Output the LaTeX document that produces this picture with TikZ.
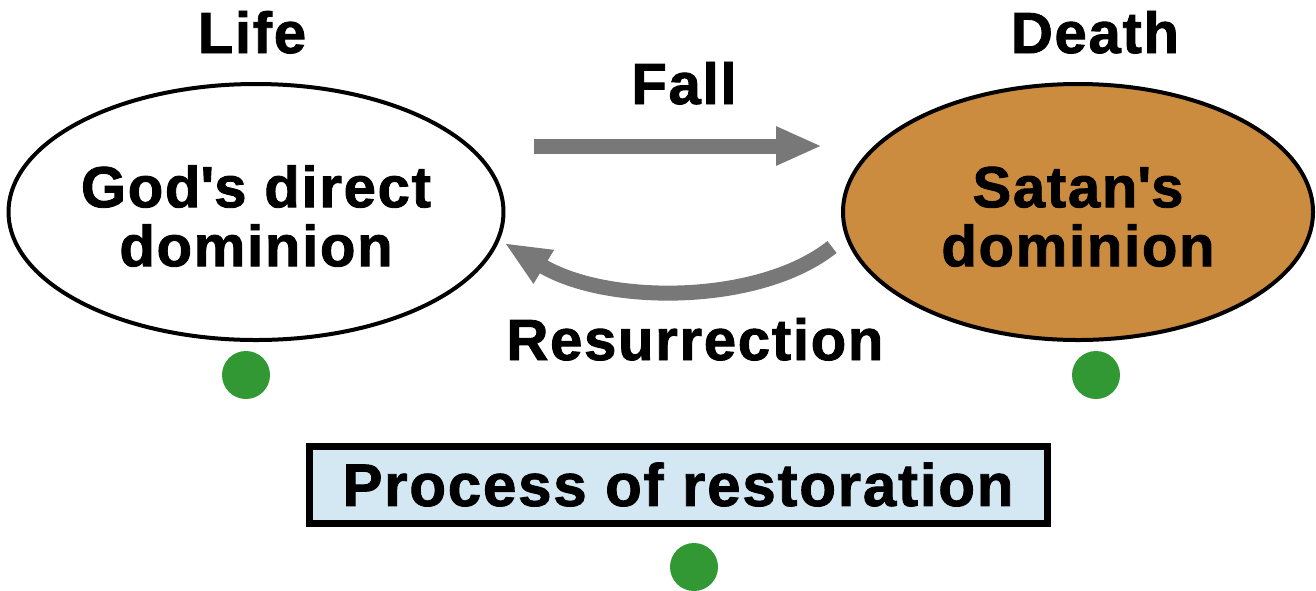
\documentclass[tikz,border=0pt]{standalone}
\usepackage{fontspec}
\setmainfont{Liberation Sans}[LetterSpace=3,BoldFeatures={FakeBold=1.5}]
\usetikzlibrary{arrows.meta,shapes.geometric}
\definecolor{satanbrown}{RGB}{204,140,64}
\definecolor{arrowgray}{RGB}{120,120,120}
\definecolor{dotgreen}{RGB}{50,152,52}
\definecolor{boxblue}{RGB}{212,232,244}
\begin{document}
\begin{tikzpicture}[
    x=1pt, y=-1pt,
    every node/.style={font=\fontsize{58}{59}\selectfont\bfseries},
    dominion/.style={ellipse,draw=black,line width=4pt,inner sep=0pt,
        align=center,minimum width=482pt,minimum height=256pt},
    heading/.style={anchor=base,inner sep=0pt},
    greendot/.style={circle,fill=dotgreen,minimum size=48pt,inner sep=0pt},
    bigarrow/.style={draw=arrowgray,line width=15pt,
        -{Triangle[length=46pt,width=36pt]},arrowgray}]
    \useasboundingbox (0,0) rectangle (1316,590);
    \node[dominion,fill=white] (god) at (256,212)
        {\rule{0pt}{50pt}God\textquotesingle s direct\\dominion};
    \node[dominion,fill=satanbrown,minimum width=470pt] (satan) at (1078,212)
        {\rule{0pt}{50pt}Satan\textquotesingle s\\dominion};
    \node[heading] (life) at (252,53) {Life};
    \node[heading] (death) at (1095,53) {Death};
    \node[heading] (fall) at (684,104) {Fall};
    \node[heading] (resurrection) at (695,360) {Resurrection};
    \draw[bigarrow] ([shift={(29,-66)}]god.east) -- ([shift={(-19,-66)}]satan.west);
    \draw[bigarrow] ([shift={(-9,35)}]satan.west)
        .. controls +(-73,58) and +(102,62) .. ([shift={(-1,31)}]god.east);
    \node[greendot] (dotL) at (246,375) {};
    \node[greendot] (dotR) at (1096,375) {};
    \node[draw=black,fill=boxblue,line width=7pt,minimum width=738pt,
        minimum height=77pt,inner sep=0pt,font=\fontsize{60}{60}\selectfont\bfseries]
        (restoration) at (678,484.5) {Process of restoration};
    \node[greendot] (dotB) at (694,567) {};
\end{tikzpicture}
\end{document}
